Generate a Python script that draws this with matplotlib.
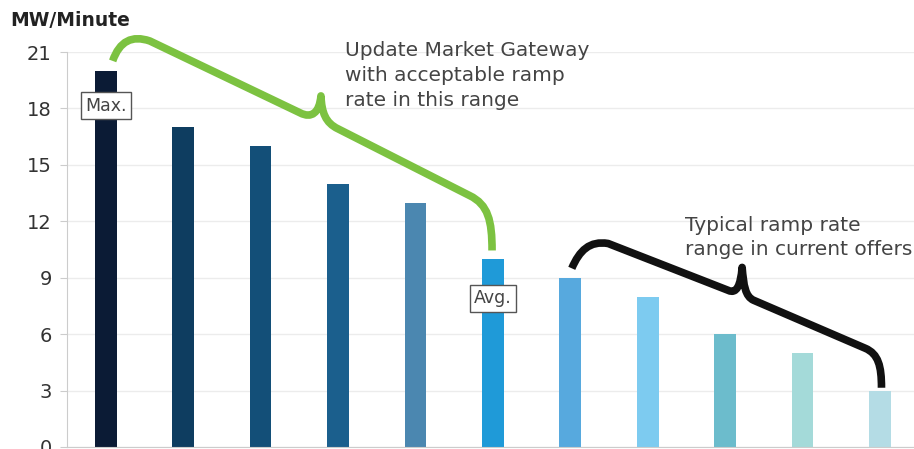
import matplotlib
matplotlib.use("Agg")
import matplotlib.pyplot as plt
from matplotlib.path import Path
from matplotlib.patches import PathPatch

# ramp rates per unit, highest to lowest
values = [20, 17, 16, 14, 13, 10, 9, 8, 6, 5, 3]
colors = ["#0b1b35", "#0e3d60", "#134f78", "#1b5f8d", "#4b87b0", "#1f9ad8",
          "#57a9de", "#7dcbf0", "#6cbccc", "#a4dad9", "#b4dce5"]
yticks = [0, 3, 6, 9, 12, 15, 18, 21]

max_idx = 0
avg_idx = 5

plt.rcParams['font.family'] = ['DejaVu Sans']

fig = plt.figure(figsize=(9.14, 4.49), dpi=100)
ax = fig.add_axes([0.0733, 0.0045, 0.9267, 0.8795])

x = list(range(len(values)))
ax.bar(x, values, width=0.28, color=colors, zorder=2)

ax.set_xlim(-0.5, 10.44)
ax.set_ylim(0, 21)
ax.set_yticks(yticks)
ax.set_yticklabels([str(t) for t in yticks], fontsize=14, color="#333333")
ax.set_xticks([])
ax.yaxis.grid(True, color="#ececec", linewidth=1, zorder=0)
ax.tick_params(axis='y', length=5, color="#cccccc", pad=6)
for side in ["top", "right"]:
    ax.spines[side].set_visible(False)
ax.spines["left"].set_color("#cccccc")
ax.spines["bottom"].set_color("#cccccc")

fig.text(0.011, 0.955, "MW/Minute", fontsize=13.5, fontweight="bold",
         color="#222222", va="center")

# curly braces
C = Path.CURVE4
L = Path.LINETO
M = Path.MOVETO

green = [(0.09, 20.53), (0.18, 21.59), (0.34, 21.91), (0.57, 21.59),
         (2.51, 17.77),
         (2.66, 17.45), (2.76, 17.77), (2.78, 18.67),
         (2.79, 17.77), (2.84, 17.24), (3.00, 16.92),
         (4.70, 13.37),
         (4.94, 12.89), (4.99, 12.04), (4.99, values[avg_idx] + 0.45)]
black = [(6.02, values[6] + 0.5), (6.12, 10.45), (6.25, 10.98), (6.49, 10.82),
         (8.04, 8.33),
         (8.15, 8.12), (8.20, 8.59), (8.22, 9.55),
         (8.24, 8.59), (8.26, 8.00), (8.37, 7.80),
         (9.81, 5.25),
         (9.98, 4.95), (10.02, 4.30), (10.02, values[10] + 0.15)]
codes = [M, C, C, C, L, C, C, C, C, C, C, L, C, C, C]

for pts, col in [(green, "#7cc241"), (black, "#111111")]:
    patch = PathPatch(Path(pts, codes), facecolor="none", edgecolor=col,
                      linewidth=5.5, capstyle="butt", joinstyle="round",
                      clip_on=False, zorder=4)
    ax.add_patch(patch)

ax.text(3.09, 21.6, "Update Market Gateway\nwith acceptable ramp\nrate in this range",
        fontsize=14.5, color="#444444", va="top", ha="left", linespacing=1.42)
ax.text(7.48, 12.3, "Typical ramp rate\nrange in current offers",
        fontsize=14.5, color="#444444", va="top", ha="left", linespacing=1.36)

box = dict(boxstyle="square,pad=0.25", facecolor="white", edgecolor="#555555", linewidth=1)
ax.text(max_idx, 18.15, "Max.", fontsize=12.5, color="#444444", ha="center", va="center",
        bbox=box, zorder=5)
ax.text(avg_idx, 7.9, "Avg.", fontsize=12.5, color="#444444", ha="center", va="center",
        bbox=box, zorder=5)

fig.savefig("out.png", dpi=100)
